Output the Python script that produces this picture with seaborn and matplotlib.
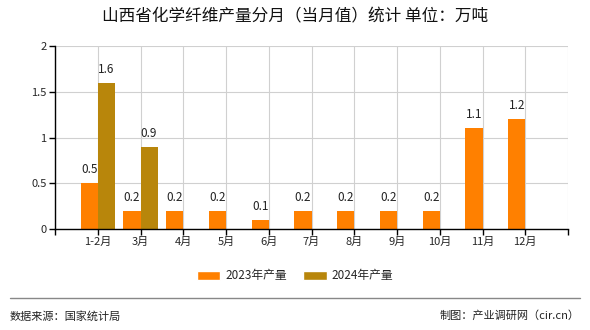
import matplotlib
matplotlib.use("Agg")
import matplotlib.pyplot as plt
import seaborn as sns
import pandas as pd

categories = ["1-2月", "3月", "4月", "5月", "6月", "7月", "8月", "9月", "10月", "11月", "12月"]
values_2023 = [0.5, 0.2, 0.2, 0.2, 0.1, 0.2, 0.2, 0.2, 0.2, 1.1, 1.2]
values_2024 = [1.6, 0.9, None, None, None, None, None, None, None, None, None]
series_names = ["2023年产量", "2024年产量"]
colors = ["#FF8000", "#B8860B"]
yticks = [0, 0.5, 1, 1.5, 2]
ytick_labels = ["0", "0.5", "1", "1.5", "2"]

sns.set_theme(style="white")
plt.rcParams['font.family'] = ['Noto Sans CJK SC', 'DejaVu Sans']

rows = []
for c, v in zip(categories, values_2023):
    rows.append({"月份": c, "系列": series_names[0], "值": v})
for c, v in zip(categories, values_2024):
    rows.append({"月份": c, "系列": series_names[1], "值": v})
df = pd.DataFrame(rows)

fig = plt.figure(figsize=(5.9, 3.3), dpi=100)
ax = fig.add_axes([55/590, 1-229/330, (568-55)/590, (229-46)/330])

sns.barplot(data=df, x="月份", y="值", hue="系列", order=categories,
            hue_order=series_names, palette=colors, width=0.8, ax=ax,
            saturation=1, legend=False, errorbar=None, linewidth=0)

for cont in ax.containers:
    labels = []
    for b in cont:
        h = b.get_height()
        labels.append("" if (h != h or h == 0) else f"{h:g}")
    ax.bar_label(cont, labels=labels, padding=5, fontsize=8.5, color="#222222")

ax.set_xlim(-1, len(categories))
ax.set_ylim(0, 2)
ax.set_xticks(range(-1, len(categories) + 1))
ax.set_xticklabels([""] + categories + [""], fontsize=8)
ax.set_yticks(yticks)
ax.set_yticklabels(ytick_labels, fontsize=8)
ax.set_xlabel("")
ax.set_ylabel("")
ax.grid(True, color="#d0d0d0", linewidth=0.8)
ax.set_axisbelow(True)
for s in ["top", "right"]:
    ax.spines[s].set_visible(False)
for s in ["left", "bottom"]:
    ax.spines[s].set_color("black")
    ax.spines[s].set_linewidth(1)
ax.tick_params(axis="both", which="both", length=4, width=1, color="black",
               left=True, bottom=True, pad=2)

fig.text(0.5, 1-17/330, "山西省化学纤维产量分月（当月值）统计 单位：万吨",
         ha="center", va="center", fontsize=12, color="#111111")

from matplotlib.patches import Patch
handles = [Patch(facecolor=colors[0]), Patch(facecolor=colors[1])]
fig.legend(handles, series_names, loc="center", bbox_to_anchor=(0.5, 1-276/330),
           ncol=2, frameon=False, fontsize=8.5, handlelength=2.0, handleheight=0.8,
           columnspacing=1.4, handletextpad=0.4)

fig.add_artist(plt.Line2D([10/590, 580/590], [1-298/330, 1-298/330],
                          color="#888888", linewidth=1))
fig.text(10/590, 1-316/330, "数据来源：国家统计局", ha="left", va="center",
         fontsize=8, color="#222222")
fig.text(580/590, 1-316/330, "制图：产业调研网（cir.cn）", ha="right", va="center",
         fontsize=8, color="#222222")

fig.savefig("out.png", dpi=100)
